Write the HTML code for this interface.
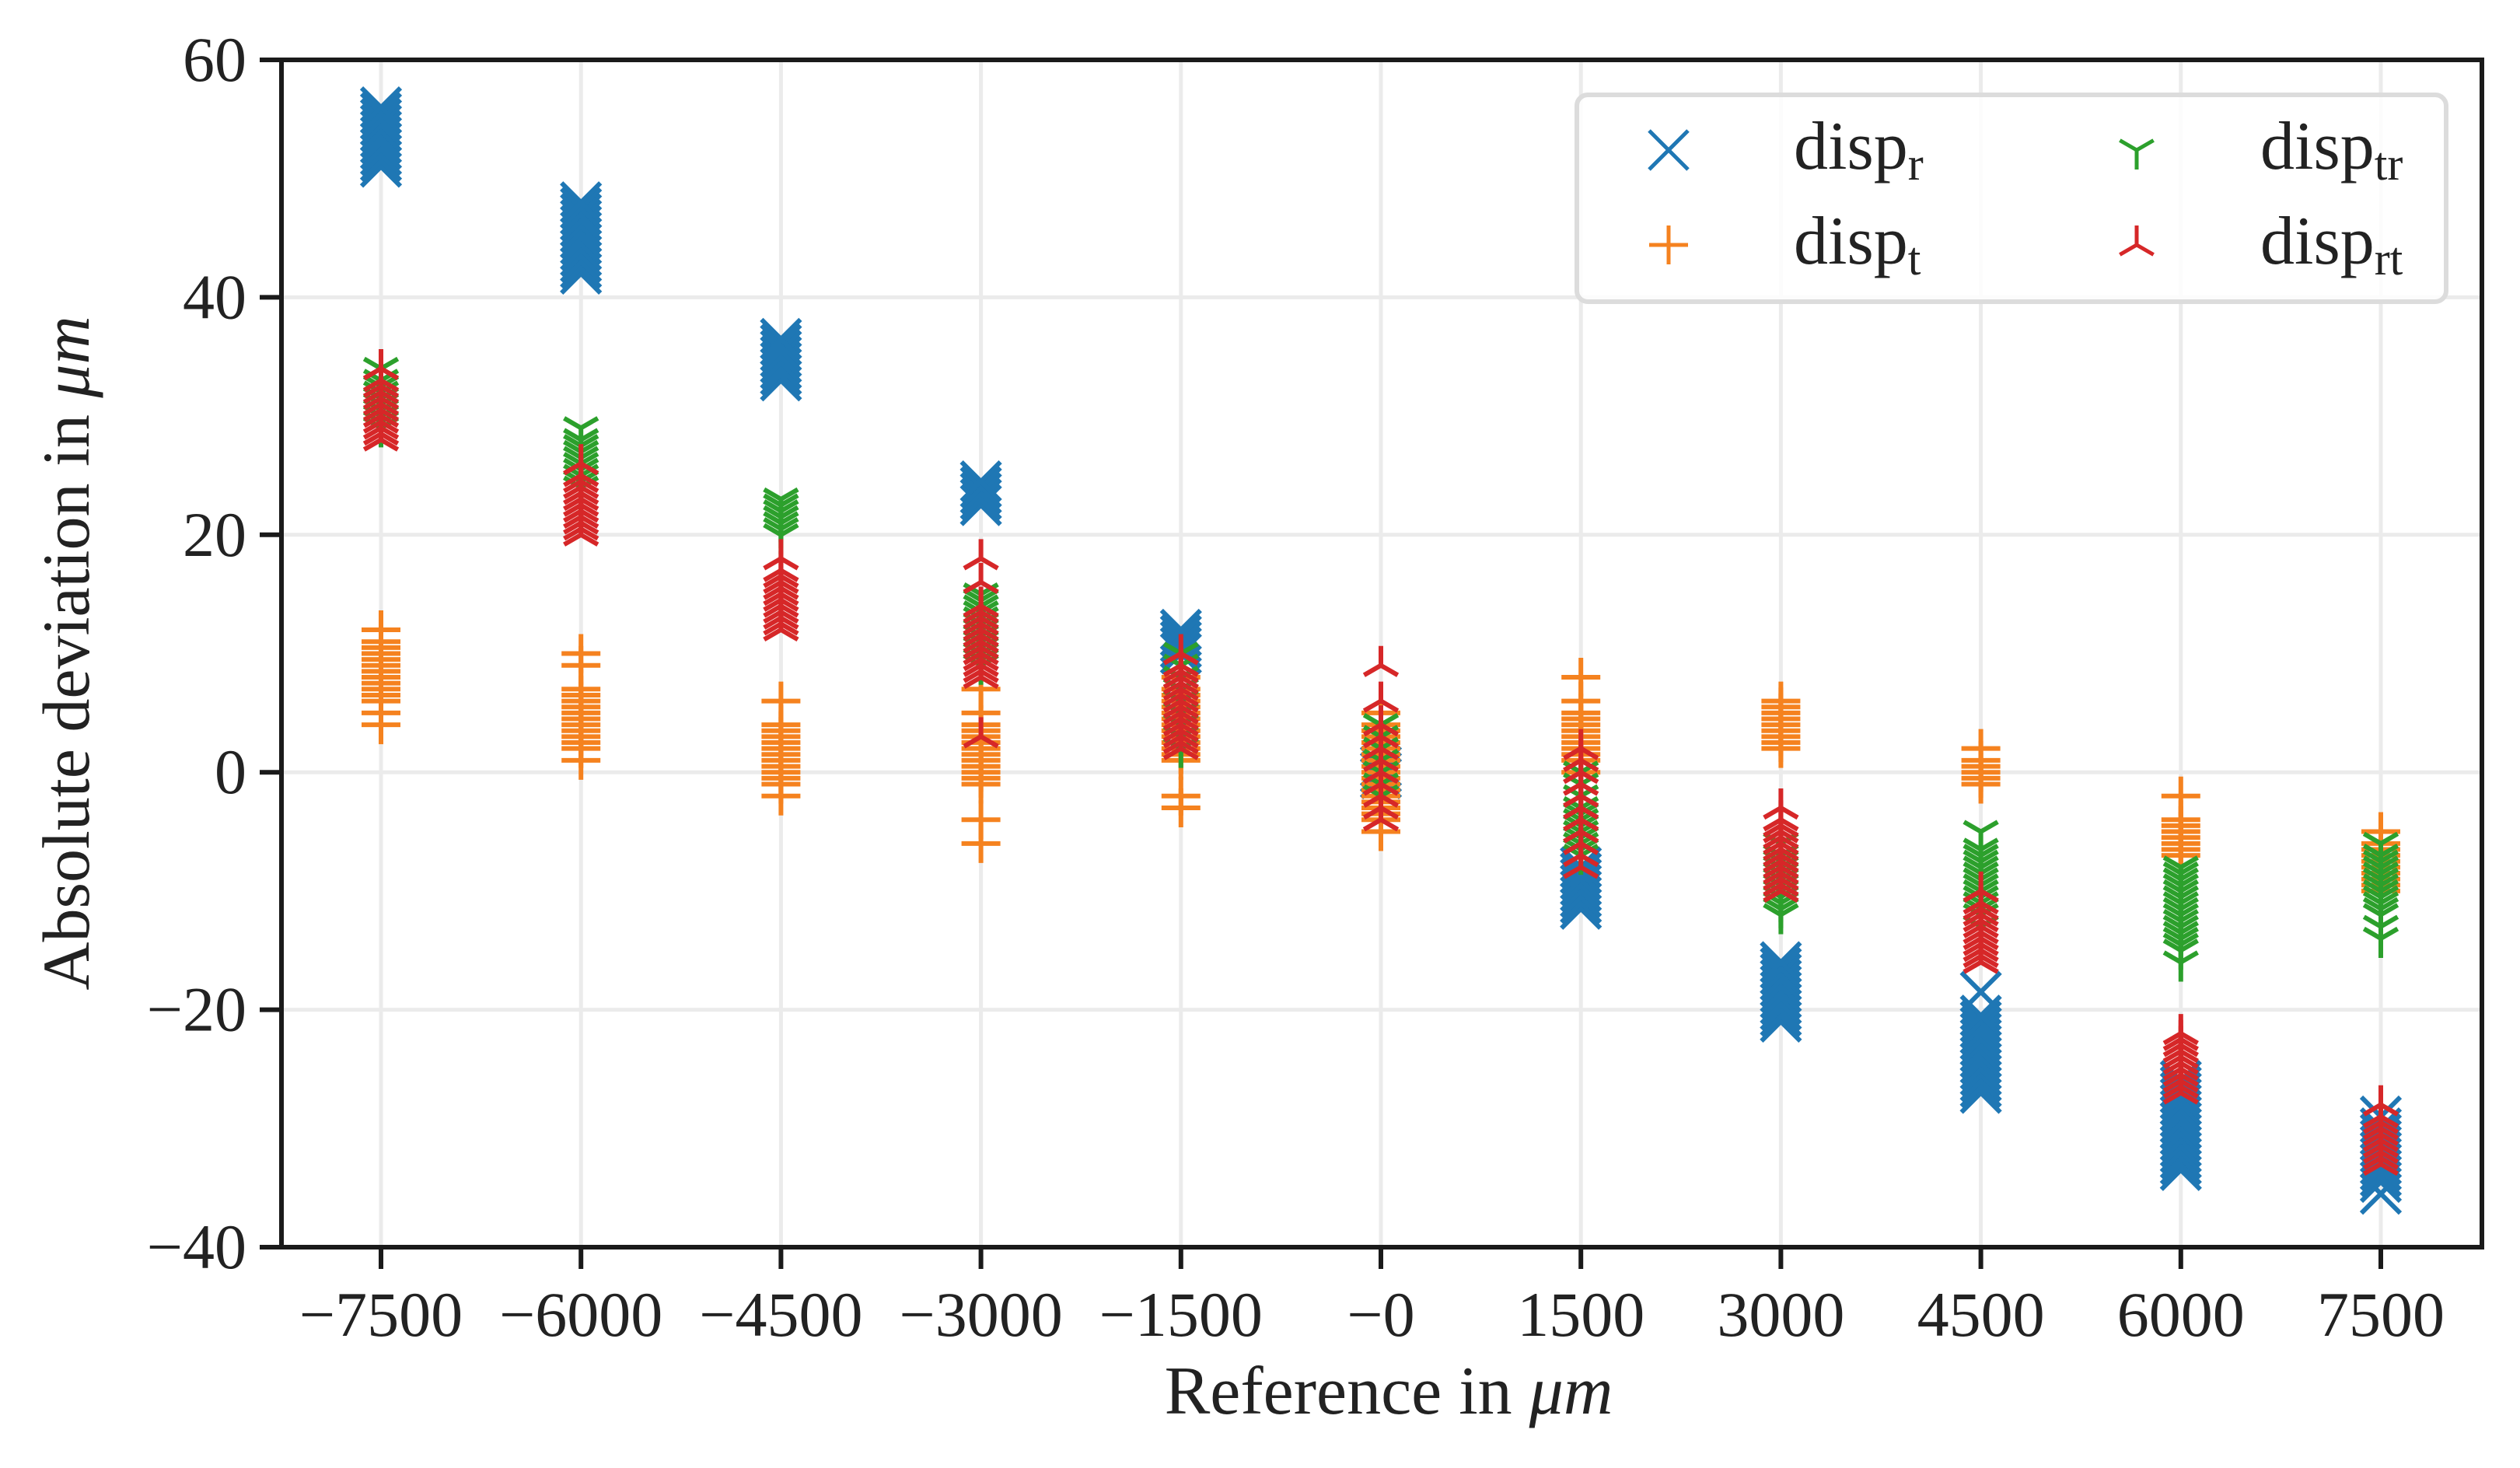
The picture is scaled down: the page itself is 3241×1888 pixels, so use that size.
<!DOCTYPE html>
<html><head><meta charset="utf-8">
<style>
html,body{margin:0;padding:0;background:#fff;}
svg{display:block;}
text{font-family:"Liberation Serif","DejaVu Serif",serif;fill:#222;}
</style></head>
<body>
<svg id="chart" width="3241" height="1888" viewBox="0 0 3241 1888" xmlns="http://www.w3.org/2000/svg">
<rect width="3241" height="1888" fill="#fff"/>
<g id="grid"></g>
<g id="marks"></g>
<g id="axes"></g>
<text x="1786" y="1818" font-size="88" text-anchor="middle">Reference in <tspan font-style="italic">μm</tspan></text>
<text transform="translate(114,840) rotate(-90)" font-size="86" text-anchor="middle">Absolute deviation in <tspan font-style="italic">μm</tspan></text>
<g id="legend">
<rect x="2028" y="122" width="1118" height="266" rx="14" fill="#fff" fill-opacity="0.85" stroke="#dcdcdc" stroke-width="6"/>
</g>
</svg>
<script>
const categories = [-7500,-6000,-4500,-3000,-1500,0,1500,3000,4500,6000,7500];
const tickLabelsX = ["\u22127500","\u22126000","\u22124500","\u22123000","\u22121500","\u22120","1500","3000","4500","6000","7500"];
const tickValuesY = [-40,-20,0,20,40,60];
const tickLabelsY = ["\u221240","\u221220","0","20","40","60"];
const dispR = [
 [51,51.5,52,52.5,53,53.5,54,54.5,55,55.5,56],
 [42,42.5,43,43.5,44,44.5,45,45.5,46,46.5,47,47.5,48],
 [33,33.5,34,34.5,35,35.5,36,36.5],
 [22.5,23,23.5,24,24.5],
 [10,10.5,11,11.5,12],
 [-0.5,0,0.5],
 [-11.5,-11,-10.5,-10,-9.5,-9,-8.5,-8],
 [-21,-20.5,-20,-19.5,-19,-18.5,-18,-17.5,-17,-16.5,-16],
 [-27,-26.5,-26,-25.5,-25,-24.5,-24,-23.5,-23,-22.5,-22,-21.5,-21,-20.5,-18.5],
 [-33.5,-33,-32.5,-32,-31.5,-31,-30.5,-30,-29.5,-29,-28.5,-28,-27.5,-27,-26.5,-26],
 [-35.5,-34.5,-34,-33.5,-33,-32.5,-32,-31.5,-31,-30.5,-30,-29]
];
const dispT = [
 [4,5,6,6.5,7,7.5,8,8.5,9,9.5,10,10.5,11,12],
 [1,2,2.5,3,3.5,4,4.5,5,5.5,6,6.5,7,9,10],
 [-2,-1,-0.5,0,0.5,1,1.5,2,2.5,3,3.5,4,6],
 [-6,-4,-1,-0.5,0,0.5,1,1.5,2,2.5,3,3.5,4,5,7],
 [-3,-2,1,1.5,2,2.5,3,3.5,4,4.5,5,5.5,6,6.5,7,8],
 [-5,-4,-3.5,-3,-2.5,-2,-1.5,-1,-0.5,0,0.5,1,1.5,2,2.5,3,3.5,4,5],
 [0,1,1.5,2,2.5,3,3.5,4,4.5,5,6,8],
 [2,2.5,3,3.5,4,4.5,5,5.5,6],
 [-1,-0.5,0,0.5,1,2],
 [-7,-6.5,-6,-5.5,-5,-4.5,-4,-2],
 [-10,-9.5,-9,-8.5,-8,-7.5,-7,-6.5,-6,-5]
];
const dispTR = [
 [29,29.5,30,30.5,31,31.5,32,32.5,33,34],
 [24,24.5,25,25.5,26,26.5,27,27.5,28,29],
 [20,20.5,21,21.5,22,22.5,23],
 [9,9.5,10,10.5,11,11.5,12,12.5,13,13.5,14,14.5,15],
 [2,3,4,5,6,7,8,9,10],
 [-2,-1,0,1,2,3,4],
 [-7,-6.5,-6,-5.5,-5,-4.5,-4,-3.5,-3,-2,-1,0],
 [-12,-11.5,-11,-10.5,-10,-9.5,-9,-8.5,-8,-7.5,-7,-6],
 [-13,-12,-11.5,-11,-10.5,-10,-9.5,-9,-8.5,-8,-7.5,-7,-6.5,-5],
 [-16,-15,-14.5,-14,-13.5,-13,-12.5,-12,-11.5,-11,-10.5,-10,-9.5,-9,-8.5,-8],
 [-14,-13,-12,-11.5,-11,-10.5,-10,-9.5,-9,-8.5,-8,-7.5,-7,-6]
];
const dispRT = [
 [28,28.5,29,29.5,30,30.5,31,31.5,32,32.5,33,34],
 [20,20.5,21,21.5,22,22.5,23,23.5,24,24.5,25,26],
 [12,12.5,13,13.5,14,14.5,15,15.5,16,16.5,17,18],
 [3,8,8.5,9,9.5,10,10.5,11,11.5,12,12.5,13,13.5,14,16,18],
 [2,2.5,3,3.5,4,4.5,5,5.5,6,6.5,7,7.5,8,8.5,9,10],
 [-4,-3,-2,-1,0,1,2,3,4,6,9],
 [-8,-7,-6,-5,-4,-3,-2,-1,0,1,2],
 [-10,-9.5,-9,-8.5,-8,-7.5,-7,-6.5,-6,-5.5,-5,-4.5,-4,-3],
 [-16,-15.5,-15,-14.5,-14,-13.5,-13,-12.5,-12,-11.5,-11,-10],
 [-27,-26.5,-26,-25.5,-25,-24.5,-24,-23.5,-23,-22.5,-22],
 [-33,-32.5,-32,-31.5,-31,-30.5,-30,-29.5,-29,-28]
];
const L=362,R=3192,T=77,B=1604, YMIN=-40, YMAX=60;
const NS="http://www.w3.org/2000/svg";
function sx(v){return 490+(v+7500)*(3062-490)/15000;}
function sy(v){return T+(YMAX-v)*(B-T)/(YMAX-YMIN);}
function mk(tag,attrs,parent){const e=document.createElementNS(NS,tag);for(const k in attrs)e.setAttribute(k,attrs[k]);parent.appendChild(e);return e;}
const grid=document.getElementById('grid'),marks=document.getElementById('marks'),axes=document.getElementById('axes'),legend=document.getElementById('legend');
categories.forEach((c,i)=>{
 const g=mk('line',{x1:sx(c),x2:sx(c),y1:T,y2:B,stroke:'#ebebeb','stroke-width':5},grid);
 
 
 const t=mk('line',{x1:sx(c),x2:sx(c),y1:B,y2:B+28,stroke:'#1a1a1a','stroke-width':6},axes);
 
 
 const lb=mk('text',{x:sx(c),y:1718,'font-size':82,'text-anchor':'middle'},axes);
 lb.textContent=tickLabelsX[i];
 
 
});
tickValuesY.forEach((v,i)=>{
 const g=mk('line',{x1:L,x2:R,y1:sy(v),y2:sy(v),stroke:'#ebebeb','stroke-width':5},grid);
 
 
 const t=mk('line',{x1:L-28,x2:L,y1:sy(v),y2:sy(v),stroke:'#1a1a1a','stroke-width':6},axes);
 
 
 const lb=mk('text',{x:L-45,y:sy(v)+27,'font-size':82,'text-anchor':'end'},axes);
 lb.textContent=tickLabelsY[i];
 
 
});
const sp=mk('rect',{x:L,y:T,width:R-L,height:B-T,fill:'none',stroke:'#1a1a1a','stroke-width':6},axes);


const h=25;
function markerPath(type,x,y){
 if(type==='x')return `M${x-h} ${y-h}L${x+h} ${y+h}M${x-h} ${y+h}L${x+h} ${y-h}`;
 if(type==='+')return `M${x-h} ${y}L${x+h} ${y}M${x} ${y-h}L${x} ${y+h}`;
 const a=h*0.866,b=h*0.5;
 if(type==='y')return `M${x} ${y}L${x} ${y+h}M${x} ${y}L${x-a} ${y-b}M${x} ${y}L${x+a} ${y-b}`;
 return `M${x} ${y}L${x} ${y-h}M${x} ${y}L${x-a} ${y+b}M${x} ${y}L${x+a} ${y+b}`;
}
const series=[
 {name:'disp-r',data:dispR,type:'x',color:'#1f77b4'},
 {name:'disp-t',data:dispT,type:'+',color:'#f5821f'},
 {name:'disp-tr',data:dispTR,type:'y',color:'#2ca02c'},
 {name:'disp-rt',data:dispRT,type:'a',color:'#d62728'}
];
series.forEach(s=>{
 const g=mk('g',{},marks);
 
 
 s.data.forEach((vals,i)=>{
  vals.forEach(v=>{
   const p=mk('path',{d:markerPath(s.type,sx(categories[i]),sy(v)),stroke:s.color,'stroke-width':6,fill:'none'},g);
   
   
  });
 });
});
const legItems=[
 {s:series[0],mx:2146,my:193,tx:2307,sub:'r'},
 {s:series[1],mx:2146,my:315,tx:2307,sub:'t'},
 {s:series[2],mx:2748,my:193,tx:2907,sub:'tr'},
 {s:series[3],mx:2748,my:315,tx:2907,sub:'rt'}
];
legItems.forEach(it=>{
 const p=mk('path',{d:markerPath(it.s.type,it.mx,it.my),stroke:it.s.color,'stroke-width':5,fill:'none'},legend);
 
 
 const t=mk('text',{x:it.tx,y:it.my+24,'font-size':88},legend);
 
 
 t.appendChild(document.createTextNode('disp'));
 const ts=mk('tspan',{'font-size':60,dy:14},t);
 ts.textContent=it.sub;
});
</script>
</body></html>
